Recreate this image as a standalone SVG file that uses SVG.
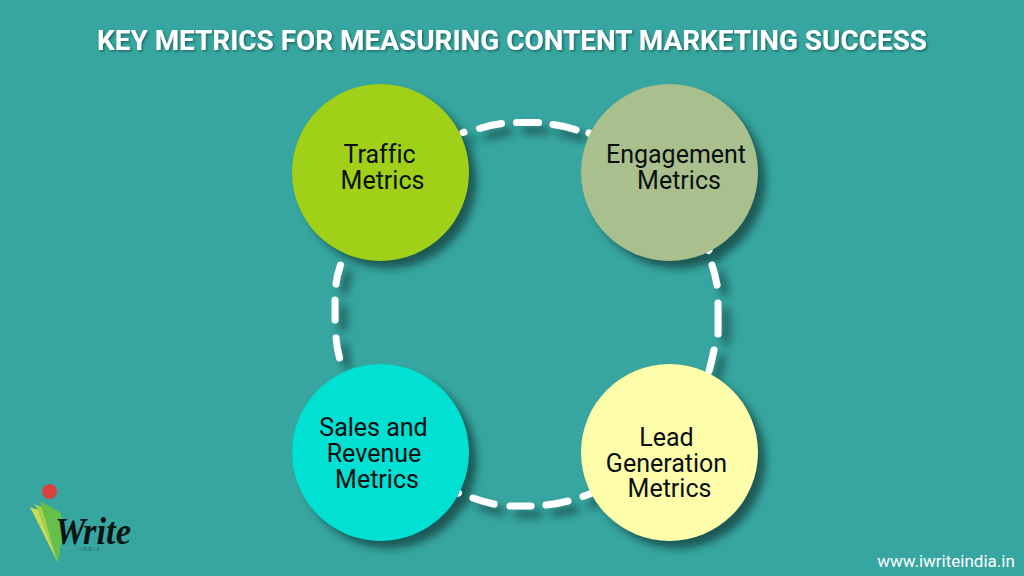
<svg xmlns="http://www.w3.org/2000/svg" width="1024" height="576" viewBox="0 0 1024 576">
<defs>
<filter id="sh" x="-30%" y="-30%" width="170%" height="170%"><feDropShadow dx="8" dy="8" stdDeviation="4.500" flood-color="#174f4d" flood-opacity="0.9"/></filter>
<filter id="ts" x="-5%" y="-30%" width="110%" height="170%"><feDropShadow dx="1.500" dy="1.500" stdDeviation="1" flood-color="#174f4d" flood-opacity="0.7"/></filter>
</defs>
<style>
.c{stroke:#fff;stroke-width:7;stroke-linecap:round;fill:none}
.t{font-family:Roboto,"Liberation Sans",sans-serif;font-size:25px;fill:#0a0f0f;text-anchor:middle;font-variant-ligatures:none}
.d{filter:url(#sh)}
</style>
<rect width="1024" height="576" fill="#38a6a0"/>
<text x="512" y="50" text-anchor="middle" textLength="830" lengthAdjust="spacingAndGlyphs" filter="url(#ts)" style="font-family:Roboto,'Liberation Sans',sans-serif;font-size:27px;font-weight:700;fill:#fff">KEY METRICS FOR MEASURING CONTENT MARKETING SUCCESS</text>
<g id="node-shadows" class="d" fill="#174f4d">
<circle cx="380.500" cy="172.500" r="88"/>
<circle cx="669.500" cy="172.500" r="88"/>
<circle cx="380.500" cy="452.500" r="88"/>
<circle cx="669.500" cy="452.500" r="88"/>
</g>
<g id="connectors" class="d">
<path class="c" d="M463 132.500L464 132.200"/>
<path class="c" d="M479.500 128.500Q490 125 501.500 123.500"/>
<path class="c" d="M516.500 122.500L538.500 122.500"/>
<path class="c" d="M553 124.500Q565 126 576 129.800"/>
<path class="c" d="M589 133L591 134"/>
<path class="c" d="M340.500 265Q337 275 336 284"/>
<path class="c" d="M335 300L335 320"/>
<path class="c" d="M336 338Q337 349 339.500 358"/>
<path class="c" d="M708.500 250.500L709 250"/>
<path class="c" d="M712 265Q715 274 717 285"/>
<path class="c" d="M718 303L718 334"/>
<path class="c" d="M714 350Q712 360 709 371"/>
<path class="c" d="M457.500 492.500L458.500 493"/>
<path class="c" d="M473 498Q484 502 494 504"/>
<path class="c" d="M510 506L531 506"/>
<path class="c" d="M546 505Q557 504 568 501"/>
<path class="c" d="M583 496.500L592 493"/>
</g>
<g id="traffic"><circle cx="380.500" cy="172.500" r="88.500" fill="#a0d017"/><text class="t" x="379.500" y="163">Traffic</text><text class="t" x="382.500" y="189">Metrics</text></g>
<g id="engagement"><circle cx="669.500" cy="172.500" r="88.500" fill="#a9bf8e"/><text class="t" x="676" y="163">Engagement</text><text class="t" x="679" y="189">Metrics</text></g>
<g id="sales"><circle cx="380.500" cy="452.500" r="88.500" fill="#00e0d3"/><text class="t" x="373.500" y="435.500">Sales and</text><text class="t" x="374" y="461.500">Revenue</text><text class="t" x="377" y="487.500">Metrics</text></g>
<g id="lead"><circle cx="669.500" cy="452.500" r="88.500" fill="#fdfdaa"/><text class="t" x="666.500" y="445.500">Lead</text><text class="t" x="666.500" y="471.500">Generation</text><text class="t" x="669.500" y="496.500">Metrics</text></g>
<g id="logo">
<circle cx="49.500" cy="491.500" r="7.500" fill="#d8423f"/>
<polygon points="30,507 38,510 58,563" fill="#c6dc55"/>
<polygon points="34,504 42,507 58,563 38,510" fill="#a5d24a"/>
<polygon points="40,501 60,512 64,524 58,563" fill="#66bf4a"/>
<text x="55" y="544" style="font-family:'Liberation Serif',serif;font-style:italic;font-weight:700;font-size:38px;fill:#0c1414" textLength="76" lengthAdjust="spacingAndGlyphs">Write</text>
<text x="91" y="551" text-anchor="middle" style="font-family:'Liberation Sans',sans-serif;font-size:5px;letter-spacing:1.500px;fill:#20504e">INDIA</text>
<path d="M64 548.500H76M110 548.500H124" stroke="#5a9e98" stroke-width="1" fill="none"/>
</g>
<text x="946" y="567" text-anchor="middle" style="font-family:Roboto,'Liberation Sans',sans-serif;font-size:17px;fill:#fff">www.iwriteindia.in</text>
</svg>
